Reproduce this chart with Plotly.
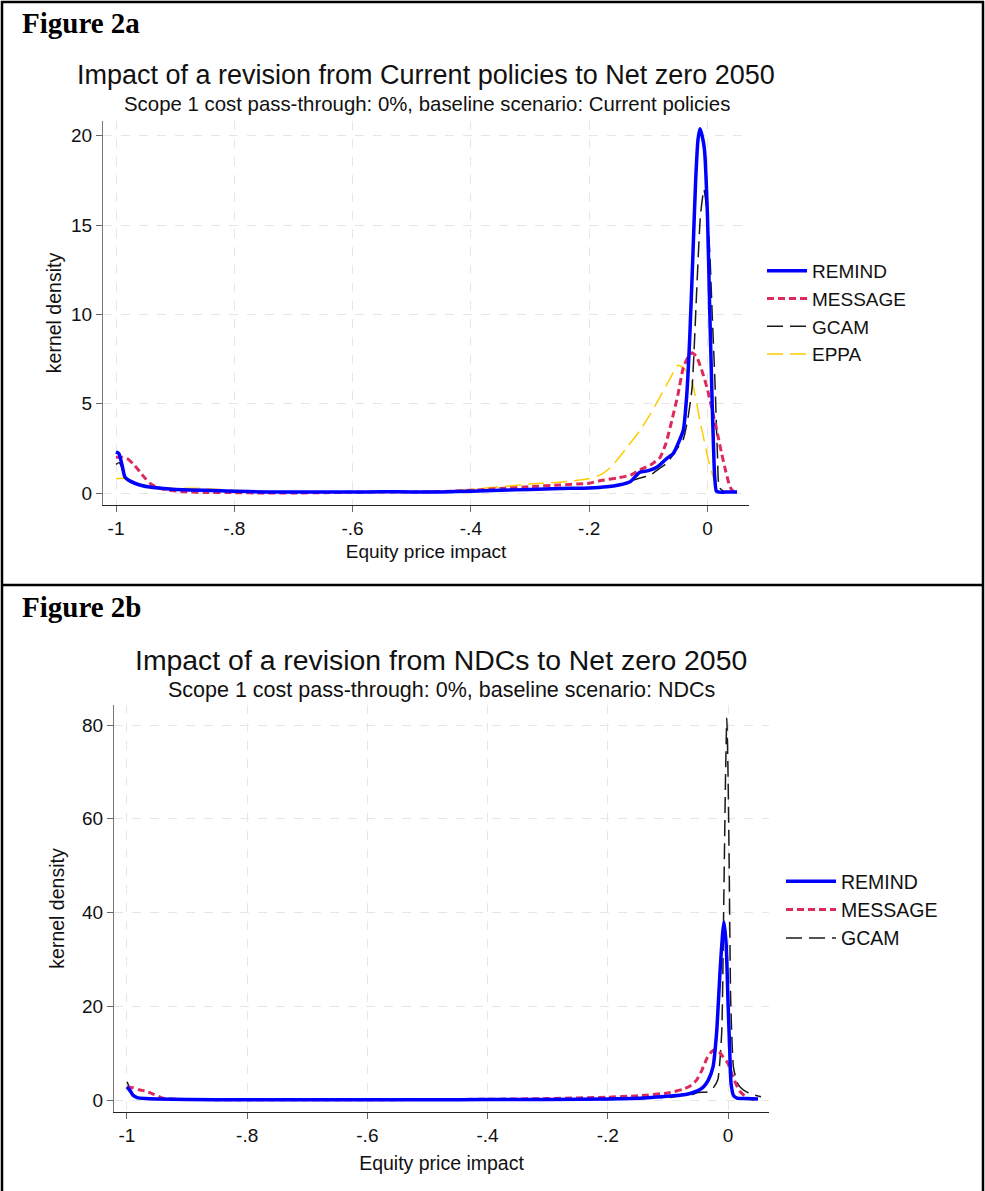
import plotly.graph_objects as go

# ---------------- data ----------------
# Figure 2a
a_remind_x = [-1.0, -0.995, -0.99, -0.985, -0.975, -0.96, -0.94, -0.92, -0.9, -0.85, -0.8, -0.75, -0.7, -0.65,
              -0.6, -0.55, -0.5, -0.45, -0.4, -0.35, -0.3, -0.25, -0.2, -0.17, -0.15, -0.13, -0.115, -0.1,
              -0.085, -0.07, -0.058, -0.048, -0.041, -0.035, -0.03, -0.025, -0.02, -0.016, -0.0127, -0.009,
              -0.005, 0.0, 0.004, 0.008, 0.012, 0.015, 0.02, 0.03, 0.04, 0.05]
a_remind_y = [2.3, 2.2, 1.6, 0.9, 0.65, 0.45, 0.32, 0.25, 0.2, 0.15, 0.1, 0.06, 0.05, 0.05,
              0.05, 0.07, 0.06, 0.06, 0.1, 0.15, 0.2, 0.25, 0.28, 0.35, 0.45, 0.65, 1.15, 1.25,
              1.45, 1.9, 2.2, 2.9, 3.5, 5.5, 8.7, 13.0, 17.5, 19.8, 20.4, 20.0,
              19.2, 15.5, 10.0, 5.0, 1.0, 0.1, 0.05, 0.05, 0.05, 0.05]

a_message_x = [-1.0, -0.99, -0.98, -0.97, -0.96, -0.95, -0.943, -0.93, -0.91, -0.88, -0.85, -0.8, -0.75, -0.7,
               -0.65, -0.6, -0.55, -0.5, -0.45, -0.4, -0.35, -0.3, -0.25, -0.2, -0.18, -0.153, -0.13, -0.114,
               -0.095, -0.08, -0.07, -0.06, -0.05, -0.041, -0.033, -0.026, -0.018, -0.008, 0.0, 0.009, 0.017,
               0.024, 0.031, 0.038, 0.045, 0.05]
a_message_y = [2.0, 2.0, 1.9, 1.6, 1.2, 0.8, 0.55, 0.3, 0.15, 0.06, 0.03, 0.02, 0.0, 0.0,
               0.02, 0.04, 0.06, 0.05, 0.08, 0.15, 0.25, 0.35, 0.45, 0.55, 0.7, 0.84, 1.0, 1.3,
               1.6, 2.0, 2.8, 4.1, 5.5, 7.0, 7.6, 7.85, 7.6, 6.7, 5.8, 4.5, 3.3,
               2.2, 1.2, 0.35, 0.05, 0.0]

a_gcam_x = [-1.0, -0.995, -0.99, -0.985, -0.975, -0.96, -0.94, -0.92, -0.9, -0.85, -0.8, -0.75, -0.7, -0.6,
            -0.5, -0.4, -0.35, -0.3, -0.25, -0.2, -0.15, -0.125, -0.097, -0.08, -0.068, -0.055, -0.041,
            -0.033, -0.026, -0.018, -0.012, -0.006, 0.0, 0.004, 0.008, 0.013, 0.017, 0.02, 0.03, 0.05]
a_gcam_y = [1.6, 1.7, 1.4, 0.8, 0.6, 0.45, 0.32, 0.25, 0.2, 0.15, 0.1, 0.05, 0.05, 0.05,
            0.07, 0.12, 0.15, 0.2, 0.25, 0.3, 0.45, 0.73, 1.0, 1.4, 1.7, 2.3, 3.0,
            4.2, 5.9, 11.5, 15.5, 17.0, 15.5, 13.4, 10.0, 5.9, 2.0, 0.3, 0.05, 0.05]

a_eppa_x = [-1.0, -0.99, -0.98, -0.97, -0.95, -0.93, -0.9, -0.87, -0.85, -0.8, -0.75, -0.7, -0.65, -0.6,
            -0.55, -0.5, -0.45, -0.4, -0.35, -0.3, -0.283, -0.25, -0.2, -0.182, -0.165, -0.153, -0.135,
            -0.114, -0.097, -0.08, -0.065, -0.05, -0.04, -0.026, -0.013, 0.004, 0.016, 0.025, 0.05]
a_eppa_y = [0.8, 0.82, 0.75, 0.6, 0.4, 0.3, 0.25, 0.27, 0.25, 0.15, 0.1, 0.05, 0.05, 0.05,
            0.07, 0.08, 0.1, 0.2, 0.35, 0.5, 0.55, 0.6, 0.8, 1.0, 1.4, 1.85, 2.6,
            3.5, 4.4, 5.4, 6.3, 7.15, 7.0, 6.2, 4.1, 1.5, 0.35, 0.1, 0.05]

# Figure 2b
b_remind_x = [-1.0, -0.995, -0.99, -0.983, -0.97, -0.95, -0.9, -0.8, -0.7, -0.6, -0.5, -0.4, -0.3, -0.2,
              -0.15, -0.1, -0.08, -0.063, -0.05, -0.041, -0.033, -0.025, -0.019, -0.013, -0.009, -0.0067,
              -0.003, 0.0, 0.003, 0.005, 0.009, 0.015, 0.03, 0.05]
b_remind_y = [2.8, 2.0, 1.0, 0.5, 0.3, 0.2, 0.1, 0.05, 0.05, 0.05, 0.05, 0.1, 0.1, 0.2,
              0.35, 0.8, 1.0, 1.4, 2.0, 2.8, 4.2, 7.0, 14.3, 28.0, 35.5, 38.0,
              33.0, 21.0, 10.0, 3.6, 1.0, 0.4, 0.3, 0.2]

b_message_x = [-1.0, -0.99, -0.98, -0.967, -0.955, -0.94, -0.92, -0.9, -0.8, -0.7, -0.6, -0.5, -0.4, -0.3,
               -0.2, -0.15, -0.1, -0.075, -0.063, -0.052, -0.043, -0.035, -0.028, -0.022, -0.015, -0.008,
               0.0, 0.006, 0.013, 0.02, 0.033, 0.045, 0.05]
b_message_y = [2.8, 2.6, 2.2, 1.8, 1.2, 0.4, 0.15, 0.1, 0.05, 0.05, 0.05, 0.1, 0.15, 0.3,
               0.6, 0.9, 1.5, 2.3, 3.0, 4.3, 6.5, 8.9, 10.2, 10.7, 10.3, 9.2,
               7.8, 5.7, 3.5, 1.8, 0.4, 0.1, 0.0]

b_gcam_x = [-1.0, -0.995, -0.99, -0.98, -0.97, -0.95, -0.9, -0.8, -0.7, -0.6, -0.5, -0.4, -0.3, -0.2,
            -0.15, -0.12, -0.1, -0.085, -0.075, -0.063, -0.05, -0.035, -0.025, -0.017, -0.0105, -0.007,
            -0.004, -0.002, 0.0, 0.002, 0.0045, 0.009, 0.015, 0.02, 0.03, 0.045, 0.055]
b_gcam_y = [3.9, 2.5, 1.2, 0.5, 0.3, 0.2, 0.1, 0.05, 0.05, 0.05, 0.05, 0.05, 0.1, 0.1,
            0.3, 0.6, 0.5, 0.8, 1.3, 1.0, 1.6, 1.7, 2.5, 4.3, 14.3, 42.7,
            70.0, 81.5, 70.0, 49.7, 21.0, 7.0, 3.8, 2.8, 1.8, 1.0, 0.7]

x_tickvals = [-1, -0.8, -0.6, -0.4, -0.2, 0]
x_ticktext = ["-1", "-.8", "-.6", "-.4", "-.2", "0"]
a_ytickvals = [0, 5, 10, 15, 20]
b_ytickvals = [0, 20, 40, 60, 80]

series_names = ["REMIND", "MESSAGE", "GCAM", "EPPA"]

# ---------------- styling ----------------
W, H = 985, 1191
SANS = "Liberation Sans, Arial, sans-serif"
SERIF = "Liberation Serif, Times New Roman, serif"

styles = {
    "REMIND": dict(color="#0000FF", width=3.5, dash="solid"),
    "MESSAGE": dict(color="#DC2A5C", width=3, dash="7px,4px"),
    "GCAM": dict(color="#1A1A1A", width=1.5, dash="16px,7px"),
    "EPPA": dict(color="#FFCC00", width=1.5, dash="16px,7px"),
}


def px(x):
    return x / W


def py(y):
    return 1 - y / H


fig = go.Figure()

panel_a = [(a_remind_x, a_remind_y), (a_message_x, a_message_y), (a_gcam_x, a_gcam_y), (a_eppa_x, a_eppa_y)]
panel_b = [(b_remind_x, b_remind_y), (b_message_x, b_message_y), (b_gcam_x, b_gcam_y)]

for idx in [3, 2, 1, 0]:
    name = series_names[idx]
    xs, ys = panel_a[idx]
    fig.add_trace(go.Scatter(x=xs, y=ys, mode="lines", name=name,
                             line=dict(shape="spline", smoothing=0.5, **styles[name]),
                             xaxis="x", yaxis="y", legend="legend", legendrank=idx + 1))
for idx in [2, 1, 0]:
    name = series_names[idx]
    xs, ys = panel_b[idx]
    fig.add_trace(go.Scatter(x=xs, y=ys, mode="lines", name=name,
                             line=dict(shape="spline", smoothing=0.5, **styles[name]),
                             xaxis="x2", yaxis="y2", legend="legend2", legendrank=idx + 1))

axis_common = dict(
    showgrid=True, gridcolor="#E6E6E6", griddash="dash", gridwidth=1,
    zeroline=False, showline=True, ticks="outside", ticklen=6, tickwidth=1.3,
    tickfont=dict(family=SANS, size=19, color="#111111"),
)

fig.update_layout(
    width=W, height=H, margin=dict(l=0, r=0, t=0, b=0),
    paper_bgcolor="white", plot_bgcolor="white",
    font=dict(family=SANS, color="#111111"),
    xaxis=dict(domain=[px(103), px(749)], range=[-1.0220, 0.0702], anchor="y",
               tickvals=x_tickvals, ticktext=x_ticktext, linecolor="#222222", tickcolor="#666666",
               title=dict(text="Equity price impact", font=dict(family=SANS, size=19), standoff=6),
               **axis_common),
    yaxis=dict(domain=[py(505), py(121)], range=[-0.672, 20.83], anchor="x",
               tickvals=a_ytickvals, linecolor="#777777", tickcolor="#666666",
               title=dict(text="kernel density", font=dict(family=SANS, size=19.5), standoff=4),
               **axis_common),
    xaxis2=dict(domain=[px(114), px(769)], range=[-1.0216, 0.0682], anchor="y2",
                tickvals=x_tickvals, ticktext=x_ticktext, linecolor="#222222", tickcolor="#666666",
                title=dict(text="Equity price impact", font=dict(family=SANS, size=19.5), standoff=11),
                **axis_common),
    yaxis2=dict(domain=[py(1112), py(705)], range=[-2.56, 84.27], anchor="x2",
                tickvals=b_ytickvals, linecolor="#777777", tickcolor="#666666",
                title=dict(text="kernel density", font=dict(family=SANS, size=19.5), standoff=12),
                **axis_common),
    legend=dict(x=px(762), y=py(252), xanchor="left", yanchor="top", bgcolor="rgba(0,0,0,0)",
                font=dict(family=SANS, size=19, color="#111111"), itemwidth=40,
                tracegroupgap=0, traceorder="normal"),
    legend2=dict(x=px(781), y=py(862), xanchor="left", yanchor="top", bgcolor="rgba(0,0,0,0)",
                 font=dict(family=SANS, size=19.5, color="#111111"), itemwidth=50,
                 tracegroupgap=0, traceorder="normal"),
    showlegend=True,
)

annotations = [
    dict(text="<b>Figure 2a</b>", x=px(20), y=py(23), xanchor="left", yanchor="middle",
         font=dict(family=SERIF, size=29, color="#000000")),
    dict(text="Impact of a revision from Current policies to Net zero 2050", x=px(426), y=py(75),
         xanchor="center", yanchor="middle", font=dict(family=SANS, size=27, color="#111111")),
    dict(text="Scope 1 cost pass-through: 0%, baseline scenario: Current policies", x=px(427), y=py(104),
         xanchor="center", yanchor="middle", font=dict(family=SANS, size=20.4, color="#111111")),
    dict(text="<b>Figure 2b</b>", x=px(20), y=py(607), xanchor="left", yanchor="middle",
         font=dict(family=SERIF, size=29, color="#000000")),
    dict(text="Impact of a revision from NDCs to Net zero 2050", x=px(441), y=py(660),
         xanchor="center", yanchor="middle", font=dict(family=SANS, size=28.4, color="#111111")),
    dict(text="Scope 1 cost pass-through: 0%, baseline scenario: NDCs", x=px(441), y=py(690),
         xanchor="center", yanchor="middle", font=dict(family=SANS, size=21.5, color="#111111")),
]
for a in annotations:
    a.update(xref="paper", yref="paper", showarrow=False)
fig.update_layout(annotations=annotations)

# outer frame and divider
frame = dict(xref="paper", yref="paper", line=dict(color="#000000", width=2.5))
fig.add_shape(type="line", x0=px(2), x1=px(2), y0=py(1), y1=py(1195), **frame)
fig.add_shape(type="line", x0=px(983), x1=px(983), y0=py(1), y1=py(1195), **frame)
fig.add_shape(type="line", x0=px(1), x1=px(984), y0=py(2), y1=py(2), **frame)
fig.add_shape(type="line", x0=px(1), x1=px(984), y0=py(585), y1=py(585), **frame)

fig.write_html("out.html", config={"displayModeBar": False},
               post_script="document.body.style.margin='0';document.body.style.overflow='hidden';")
